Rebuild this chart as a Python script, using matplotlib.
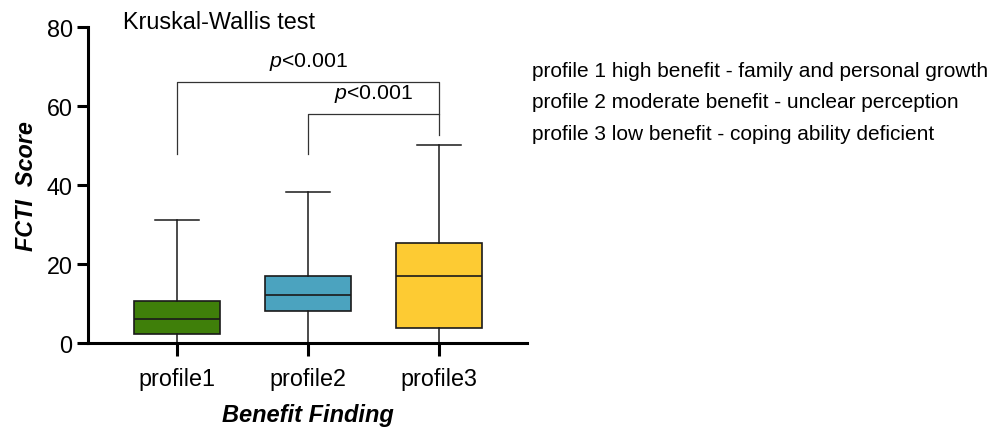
import matplotlib
matplotlib.use("Agg")
import matplotlib.pyplot as plt

plt.rcParams["font.family"] = ["Liberation Sans", "DejaVu Sans"]
plt.rcParams["mathtext.fontset"] = "custom"
plt.rcParams["mathtext.rm"] = "Liberation Sans"
plt.rcParams["mathtext.it"] = "Liberation Sans:italic"

# box summary per latent profile (FCTI score)
profiles = ["profile1", "profile2", "profile3"]
q1 = [2.3, 8.2, 3.7]
median = [6.0, 12.2, 17.0]
q3 = [10.7, 16.9, 25.2]
whis_lo = [0.0, 0.0, 0.0]
whis_hi = [31.1, 38.1, 50.1]
colors = ["#3f7f0a", "#4ba3bf", "#fdcb33"]

# pairwise comparisons: (left, right, bar height, left leg end, right leg end, label)
comparisons = [
    (1, 3, 66.0, 47.8, 58.0, "$p$<0.001"),
    (2, 3, 58.0, 47.8, 52.7, "$p$<0.001"),
]

legend_lines = [
    "profile 1 high benefit - family and personal growth",
    "profile 2 moderate benefit - unclear perception",
    "profile 3 low benefit - coping ability deficient",
]

fig = plt.figure(figsize=(9.94, 4.31), dpi=100)
ax = fig.add_axes([0.0885, 0.2019, 0.4417, 0.7332])

stats = []
for i, name in enumerate(profiles):
    stats.append(dict(label=name, med=median[i], q1=q1[i], q3=q3[i],
                      whislo=whis_lo[i], whishi=whis_hi[i], fliers=[]))

pos = [1, 2, 3]
bp = ax.bxp(stats, positions=pos, widths=0.66, capwidths=0.34,
            patch_artist=True, showfliers=False,
            boxprops=dict(linewidth=1.2, edgecolor="#1a1a1a"),
            medianprops=dict(color="#1a1a1a", linewidth=1.2),
            whiskerprops=dict(color="#1a1a1a", linewidth=1.1),
            capprops=dict(color="#1a1a1a", linewidth=1.1))
for patch, c in zip(bp["boxes"], colors):
    patch.set_facecolor(c)

for left, right, h, yl, yr, lab in comparisons:
    ax.plot([left, left, right, right], [yl, h, h, yr], color="#333333",
            lw=0.9, clip_on=False)
    ax.text((left + right) / 2, h + 2.5, lab, ha="center", va="bottom",
            fontsize=15.3)

ax.text(0.59, 81.3, "Kruskal-Wallis test", ha="left", va="center",
        fontsize=16.8, clip_on=False)

ax.set_xlim(0.32, 3.67)
ax.set_ylim(0, 80)
ax.set_yticks([0, 20, 40, 60, 80])
ax.set_xticks(pos)
ax.set_xticklabels(profiles)
for side in ("top", "right"):
    ax.spines[side].set_visible(False)
for side in ("left", "bottom"):
    ax.spines[side].set_linewidth(2.2)
ax.tick_params(axis="both", labelsize=16.8, width=2.2, color="black")
ax.tick_params(axis="y", length=8, pad=3)
ax.tick_params(axis="x", length=9.5, pad=8)

ax.set_ylabel("FCTI  Score", fontsize=16.8, fontweight="bold", style="italic",
              labelpad=6)
ax.set_xlabel("Benefit Finding", fontsize=17, fontweight="bold",
              style="italic", labelpad=9)

for k, line in enumerate(legend_lines):
    fig.text(0.535, 1 - (77 + 31.5 * k) / 431, line, ha="left",
             va="baseline", fontsize=15)

fig.savefig("out.png", dpi=100)
